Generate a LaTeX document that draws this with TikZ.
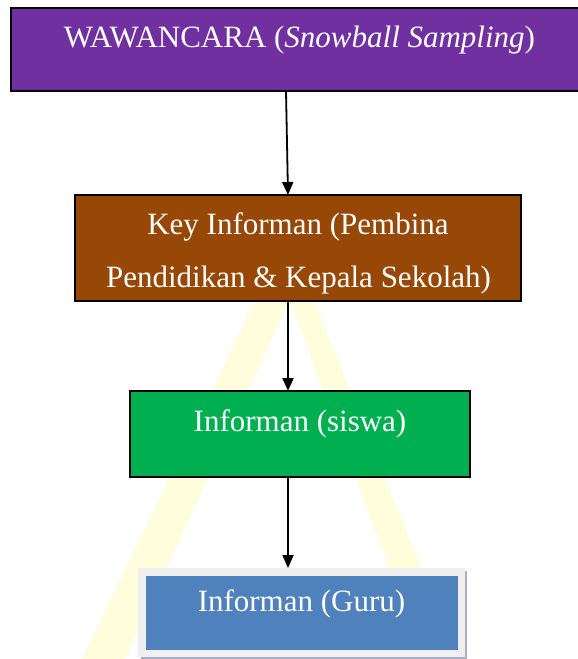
\documentclass[tikz,border=0pt]{standalone}
\usepackage{fontspec}
\setmainfont{Liberation Serif}
\usetikzlibrary{arrows.meta}
\definecolor{cpurple}{HTML}{7030A0}
\definecolor{cbrown}{HTML}{974706}
\definecolor{cgreen}{HTML}{00B050}
\definecolor{cblue}{HTML}{4F81BD}
\definecolor{cframe}{HTML}{EFEFEF}
\definecolor{cshadow}{HTML}{A6AEBF}
\definecolor{cwater}{HTML}{FFFBC4}
\tikzset{
  box/.style={draw=black, line width=1.8pt, rectangle, inner sep=0pt},
  lbl/.style={text=white, font=\fontsize{31}{36}\selectfont, inner sep=0pt, anchor=base},
  conn/.style={line width=1.8pt, -{Triangle[length=13pt,width=11pt]}},
}
\begin{document}
\begin{tikzpicture}[x=1pt,y=-1pt]
\useasboundingbox (0,0) rectangle (578,659);
% watermark
\fill[cwater, opacity=0.6] (258,295) -- (292,295) -- (125,659) -- (82,659) -- cycle;
\fill[cwater, opacity=0.6] (288,295) -- (312,295) -- (422,570) -- (390,570) -- cycle;
% boxes
\node[box, fill=cpurple, minimum width=572pt, minimum height=83pt] (b1) at (297,49.5) {};
\node[box, fill=cbrown, minimum width=446pt, minimum height=106pt] (b2) at (298,248) {};
\node[box, fill=cgreen, minimum width=340pt, minimum height=86pt] (b3) at (300,434) {};
\fill[cshadow] (141,571) rectangle (467,659);
\node[fill=cframe, rectangle, inner sep=0pt, minimum width=327pt, minimum height=89pt] (b4) at (301.5,612.5) {};
\node[fill=cblue, rectangle, inner sep=0pt, minimum width=312pt, minimum height=74pt] (b4in) at (302,613) {};
% labels
\node[lbl] (t1) at (299.5,47) {WAWANCARA (\textit{Snowball Sampling})};
\node[lbl] (t2a) at (298,234) {Key Informan (Pembina};
\node[lbl] (t2b) at (298.5,287) {Pendidikan \& Kepala Sekolah)};
\node[lbl] (t3) at (300,431) {Informan (siswa)};
\node[lbl] (t4) at (301.5,611) {Informan (Guru)};
% connectors
\draw[conn] (286,91) -- (288,195);
\draw[conn] (288,301) -- (288,391);
\draw[conn] (288,477) -- (288,568);
\end{tikzpicture}
\end{document}
